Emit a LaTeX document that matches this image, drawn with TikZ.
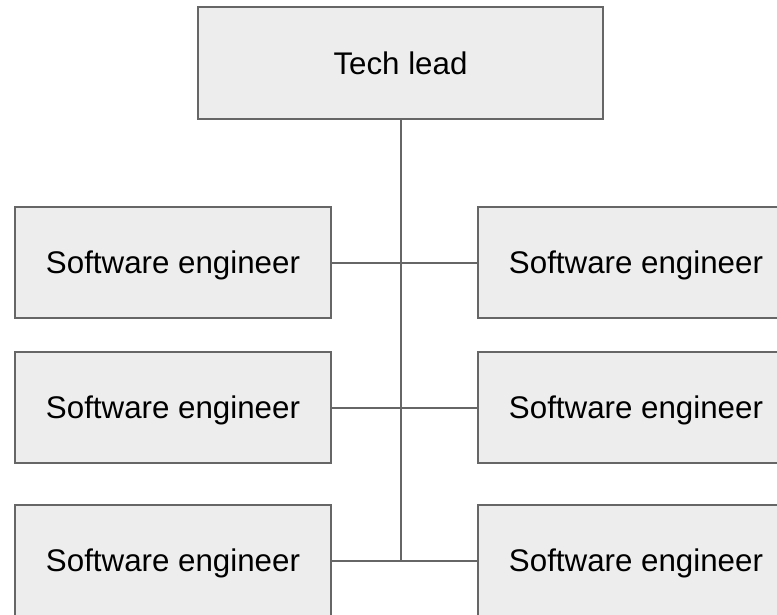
\documentclass[tikz,border=0pt]{standalone}
\usepackage{fontspec}
\setmainfont{Liberation Sans}
\definecolor{boxfill}{HTML}{EDEDED}
\definecolor{boxline}{HTML}{666666}
\begin{document}
\begin{tikzpicture}[x=1pt,y=-1pt,
  role/.style={draw=boxline,fill=boxfill,line width=2pt,inner sep=0pt,text depth=0pt,
    minimum width=316pt,minimum height=111pt,font=\fontsize{31.3}{36}\selectfont},
  link/.style={draw=boxline,line width=2pt}]

\useasboundingbox (0,0) rectangle (777,614);
\clip (0,0) rectangle (777,614);

\node[role,minimum width=405pt,minimum height=112pt] (lead) at (400.5,63) {Tech lead};

\node[role] (swl1) at (173,262.5) {Software engineer};
\node[role] (swr1) at (636,262.5) {Software engineer};

\node[role] (swl2) at (173,407.5) {Software engineer};
\node[role] (swr2) at (636,407.5) {Software engineer};

\node[role] (swl3) at (173,560.5) {Software engineer};
\node[role] (swr3) at (636,560.5) {Software engineer};

% trunk down from the lead
\coordinate (foot) at (lead.south |- swl3.east);
\draw[link] (lead.south) -- (foot);

\draw[link] (swl1.east) -- (swr1.west);
\draw[link] (swl2.east) -- (swr2.west);
\draw[link] (swl3.east) -- (swr3.west);

\end{tikzpicture}
\end{document}
